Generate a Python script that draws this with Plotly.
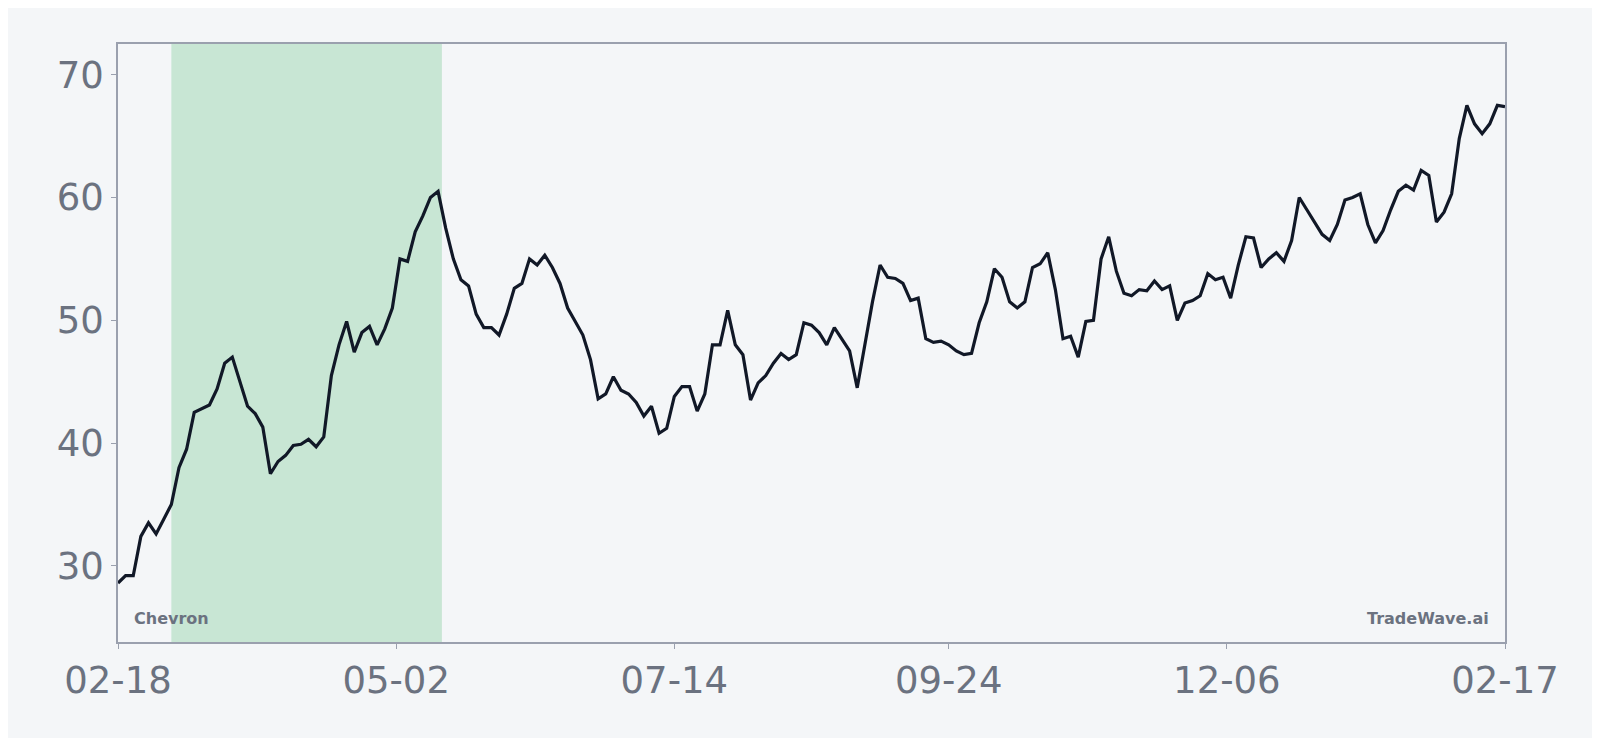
import pandas as pd
import plotly.graph_objects as go

# one reading every second day, 2023-02-18 .. 2024-02-17
start_date = "2023-02-18"
end_date = "2024-02-17"
prices = [
    28.6, 29.2, 29.2, 32.4, 33.5, 32.6, 33.8, 35.0, 38.0, 39.5,
    42.5, 42.8, 43.1, 44.4, 46.5, 47.0, 45.0, 43.0, 42.4, 41.3,
    37.5, 38.5, 39.0, 39.8, 39.9, 40.3, 39.7, 40.5, 45.5, 48.0,
    49.9, 47.4, 49.0, 49.5, 48.0, 49.3, 51.0, 55.0, 54.8, 57.2,
    58.5, 60.0, 60.5, 57.5, 55.0, 53.3, 52.8, 50.5, 49.4, 49.4,
    48.8, 50.5, 52.6, 53.0, 55.0, 54.5, 55.3, 54.3, 53.0, 51.0,
    49.9, 48.8, 46.8, 43.6, 44.0, 45.4, 44.3, 44.0, 43.3, 42.2,
    43.0, 40.8, 41.2, 43.8, 44.6, 44.6, 42.6, 44.0, 48.0, 48.0,
    50.8, 48.0, 47.2, 43.5, 44.9, 45.5, 46.5, 47.3, 46.8, 47.2,
    49.8, 49.6, 49.0, 48.0, 49.4, 48.5, 47.5, 44.5, 48.0, 51.5,
    54.5, 53.5, 53.4, 53.0, 51.6, 51.8, 48.5, 48.2, 48.3, 48.0,
    47.5, 47.2, 47.3, 49.8, 51.5, 54.2, 53.5, 51.5, 51.0, 51.5,
    54.3, 54.6, 55.5, 52.5, 48.5, 48.7, 47.0, 49.9, 50.0, 55.0,
    56.8, 54.0, 52.2, 52.0, 52.5, 52.4, 53.2, 52.5, 52.8, 50.0,
    51.4, 51.6, 52.0, 53.8, 53.3, 53.5, 51.8, 54.5, 56.8, 56.7,
    54.3, 55.0, 55.5, 54.8, 56.5, 60.0, 59.0, 58.0, 57.0, 56.5,
    57.8, 59.8, 60.0, 60.3, 57.8, 56.3, 57.3, 59.0, 60.5, 61.0,
    60.6, 62.2, 61.8, 58.0, 58.8, 60.3, 64.8, 67.5, 66.0, 65.2,
    66.0, 67.5, 67.4,
]
dates = pd.date_range(start_date, periods=len(prices), freq="2D")
highlight = ("2023-03-04", "2023-05-14")
tick_dates = ["2023-02-18", "2023-05-02", "2023-07-14", "2023-09-24", "2023-12-06", "2024-02-17"]
y_ticks = [30, 40, 50, 60, 70]

bg = "#f4f6f8"
grey = "#6b7280"

fig = go.Figure()
fig.add_trace(go.Scatter(x=dates, y=prices, mode="lines",
                         line=dict(color="#111827", width=3.2), showlegend=False))
fig.add_vrect(x0=highlight[0], x1=highlight[1], fillcolor="#c8e6d4",
              opacity=1, line_width=0, layer="below")

fig.add_annotation(text="<b>Chevron</b>", xref="paper", yref="paper", x=0.01, y=0.02,
                   xanchor="left", yanchor="bottom", showarrow=False,
                   font=dict(size=16, color=grey))
fig.add_annotation(text="<b>TradeWave.ai</b>", xref="paper", yref="paper", x=0.99, y=0.02,
                   xanchor="right", yanchor="bottom", showarrow=False,
                   font=dict(size=16, color=grey))

axis_common = dict(showgrid=False, zeroline=False, showline=True, linecolor="#9aa0ae",
                   linewidth=1.5, mirror=True, ticks="outside", ticklen=5,
                   tickcolor="#9aa0ae", tickfont=dict(size=37, color=grey))
fig.update_xaxes(range=[start_date, end_date], tickvals=tick_dates, tickformat="%m-%d",
                 **axis_common)
fig.update_yaxes(range=[23.8, 72.5], tickvals=y_ticks, **axis_common)

# page has an 8px body margin, so the figure is a bit smaller than the window
fig.update_layout(width=1584, height=730, paper_bgcolor=bg, plot_bgcolor=bg,
                  margin=dict(l=110, r=87, t=36, b=96),
                  font=dict(family="DejaVu Sans"))
fig.write_html("out.html")
